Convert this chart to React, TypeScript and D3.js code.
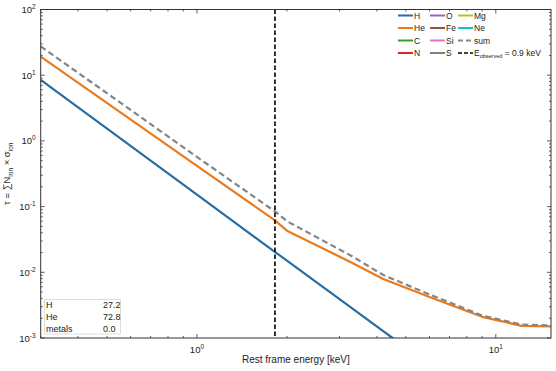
import React, { useRef, useEffect } from "react";
import * as d3 from "d3";

// energies in keV (rest frame), optical depth values
const hEnergy = [0.3, 1.0, 2.0, 3.0, 4.5, 5.0];
const hTau = [8.5, 0.152, 0.015, 0.0039, 0.00101, 0.00071];

const heEnergy = [0.3, 1.0, 1.824, 2.0, 3.3, 4.2, 6.0, 9.0, 12.2, 15.3];
const heTau = [19.2, 0.417, 0.0617, 0.043, 0.014, 0.0079, 0.0042, 0.0021, 0.00153, 0.0015];

const sumEnergy = [0.3, 1.0, 1.824, 2.0, 3.3, 4.2, 6.0, 9.0, 12.2, 15.3];
const sumTau = [27.5, 0.57, 0.0845, 0.06, 0.0176, 0.0091, 0.0046, 0.0022, 0.0016, 0.00155];

const eRest = 1.824;

const legendNames = ["H", "He", "C", "N", "O", "Fe", "Si", "S", "Mg", "Ne"];
const legendColors = ["#276ea3", "#eb7a1c", "#2ca02c", "#d62728", "#9467bd", "#8c564b", "#e377c2", "#7f7f7f", "#bcbd22", "#17becf"];

const tableLabels = ["H", "He", "metals"];
const tableValues = ["27.2", "72.8", "0.0"];

const xMajor = [1, 10];
const yMajor = [-3, -2, -1, 0, 1, 2];

const App = () => {
  const svgRef = useRef<SVGSVGElement>(null);

  useEffect(() => {
    const svg = d3.select(svgRef.current);
    svg.selectAll("*").remove();

    const W = 556, H = 371;
    const margin = { top: 9.5, right: 5, bottom: 33, left: 40.7 };
    const x0 = margin.left, x1 = W - margin.right;
    const y0 = margin.top, y1 = H - margin.bottom;
    const font = "'Liberation Sans', Arial, sans-serif";

    const x = d3.scaleLog().domain([0.3, 15.3]).range([x0, x1]);
    const y = d3.scaleLog().domain([1e-3, 1e2]).range([y1, y0]);

    svg.attr("width", W).attr("height", H).style("font-family", font);

    svg.append("defs").append("clipPath").attr("id", "plotclip")
      .append("rect").attr("x", x0).attr("y", y0).attr("width", x1 - x0).attr("height", y1 - y0);

    const plot = svg.append("g").attr("clip-path", "url(#plotclip)");
    const line = d3.line<[number, number]>().x(d => x(d[0])).y(d => y(d[1]));

    const hData = hEnergy.map((e, i) => [e, hTau[i]] as [number, number]);
    const heData = heEnergy.map((e, i) => [e, heTau[i]] as [number, number]);
    const sumData = sumEnergy.map((e, i) => [e, sumTau[i]] as [number, number]);

    plot.append("path").attr("d", line(hData)).attr("fill", "none")
      .attr("stroke", legendColors[0]).attr("stroke-width", 2.2);
    plot.append("path").attr("d", line(heData)).attr("fill", "none")
      .attr("stroke", legendColors[1]).attr("stroke-width", 2.2).attr("stroke-linejoin", "round");
    plot.append("path").attr("d", line(sumData)).attr("fill", "none")
      .attr("stroke", "#858585").attr("stroke-width", 2.2).attr("stroke-dasharray", "6,3.5");

    plot.append("line").attr("x1", x(eRest)).attr("x2", x(eRest)).attr("y1", y0).attr("y2", y1)
      .attr("stroke", "#000").attr("stroke-width", 1.6).attr("stroke-dasharray", "4.5,2.5");

    // frame
    svg.append("rect").attr("x", x0).attr("y", y0).attr("width", x1 - x0).attr("height", y1 - y0)
      .attr("fill", "none").attr("stroke", "#333").attr("stroke-width", 1);

    // ticks, inward on all sides
    const ticks = svg.append("g").attr("stroke", "#333").attr("stroke-width", 0.8);
    const xMinor: number[] = [];
    [0.1, 1].forEach(d => d3.range(2, 10).forEach(k => { if (k * d >= 0.3 && k * d <= 15.3) xMinor.push(k * d); }));
    const yMinor: number[] = [];
    d3.range(-3, 2).forEach(p => d3.range(2, 10).forEach(k => yMinor.push(k * Math.pow(10, p))));

    xMajor.forEach(v => {
      ticks.append("line").attr("x1", x(v)).attr("x2", x(v)).attr("y1", y1).attr("y2", y1 - 4);
      ticks.append("line").attr("x1", x(v)).attr("x2", x(v)).attr("y1", y0).attr("y2", y0 + 4);
    });
    xMinor.forEach(v => {
      ticks.append("line").attr("x1", x(v)).attr("x2", x(v)).attr("y1", y1).attr("y2", y1 - 2);
      ticks.append("line").attr("x1", x(v)).attr("x2", x(v)).attr("y1", y0).attr("y2", y0 + 2);
    });
    yMajor.forEach(p => {
      const v = Math.pow(10, p);
      ticks.append("line").attr("x1", x0).attr("x2", x0 + 4).attr("y1", y(v)).attr("y2", y(v));
      ticks.append("line").attr("x1", x1).attr("x2", x1 - 4).attr("y1", y(v)).attr("y2", y(v));
    });
    yMinor.forEach(v => {
      ticks.append("line").attr("x1", x0).attr("x2", x0 + 2).attr("y1", y(v)).attr("y2", y(v));
      ticks.append("line").attr("x1", x1).attr("x2", x1 - 2).attr("y1", y(v)).attr("y2", y(v));
    });

    // tick labels
    xMajor.forEach(v => {
      const t = svg.append("text").attr("x", x(v)).attr("y", y1 + 15).attr("text-anchor", "middle")
        .attr("font-size", 9.5).attr("fill", "#222");
      t.append("tspan").text("10");
      t.append("tspan").attr("dy", -4).attr("font-size", 6.5).text(String(Math.round(Math.log10(v))));
    });
    yMajor.forEach(p => {
      const t = svg.append("text").attr("x", x0 - 5).attr("y", y(Math.pow(10, p)) + 3.5)
        .attr("text-anchor", "end").attr("font-size", 9.5).attr("fill", "#222");
      t.append("tspan").text("10");
      t.append("tspan").attr("dy", -4).attr("font-size", 6.5).text(String(p));
    });

    // axis labels
    svg.append("text").attr("x", (x0 + x1) / 2).attr("y", H - 8).attr("text-anchor", "middle")
      .attr("font-size", 10).attr("fill", "#222").text("Rest frame energy [keV]");

    const yl = svg.append("text").attr("transform", `translate(10,${(y0 + y1) / 2}) rotate(-90)`)
      .attr("text-anchor", "middle").attr("font-size", 9.5).attr("fill", "#222");
    yl.append("tspan").text("τ = ∑N");
    yl.append("tspan").attr("font-size", 6.5).attr("dy", 2.5).text("ion");
    yl.append("tspan").attr("dy", -2.5).text(" × σ");
    yl.append("tspan").attr("font-size", 6.5).attr("dy", 2.5).text("ion");

    // legend
    const leg = svg.append("g").attr("font-size", 8.5).attr("fill", "#222");
    const colX = [398, 430, 458];
    const rowY = [15.5, 28, 40.5, 53];
    legendNames.forEach((name, i) => {
      const c = i < 4 ? 0 : i < 8 ? 1 : 2;
      const r = i < 4 ? i : i < 8 ? i - 4 : i - 8;
      leg.append("line").attr("x1", colX[c]).attr("x2", colX[c] + 15).attr("y1", rowY[r]).attr("y2", rowY[r])
        .attr("stroke", legendColors[i]).attr("stroke-width", 2);
      leg.append("text").attr("x", colX[c] + 16).attr("y", rowY[r] + 3).text(name);
    });
    leg.append("line").attr("x1", colX[2]).attr("x2", colX[2] + 15).attr("y1", rowY[2]).attr("y2", rowY[2])
      .attr("stroke", "#858585").attr("stroke-width", 2).attr("stroke-dasharray", "5,3");
    leg.append("text").attr("x", colX[2] + 16).attr("y", rowY[2] + 3).text("sum");
    leg.append("line").attr("x1", colX[2]).attr("x2", colX[2] + 15).attr("y1", rowY[3]).attr("y2", rowY[3])
      .attr("stroke", "#000").attr("stroke-width", 1.6).attr("stroke-dasharray", "4,2");
    const eo = leg.append("text").attr("x", colX[2] + 16).attr("y", rowY[3] + 3);
    eo.append("tspan").text("E");
    eo.append("tspan").attr("font-size", 5.5).attr("dy", 2).text("observed");
    eo.append("tspan").attr("dy", -2).text(" = 0.9 keV");

    // abundance table
    const tb = svg.append("g");
    tb.append("rect").attr("x", 44.5).attr("y", 299.5).attr("width", 76).attr("height", 34.5)
      .attr("fill", "#fff").attr("stroke", "#ddd").attr("stroke-width", 1);
    tableLabels.forEach((lab, i) => {
      tb.append("text").attr("x", 46).attr("y", 307.5 + i * 12.2).attr("font-size", 9).attr("fill", "#222").text(lab);
      tb.append("text").attr("x", 103).attr("y", 307.5 + i * 12.2).attr("font-size", 9).attr("fill", "#222").text(tableValues[i]);
    });
  }, []);

  return <svg ref={svgRef} style={{ position: "absolute", left: 0, top: 0 }}></svg>;
};

export default App;
